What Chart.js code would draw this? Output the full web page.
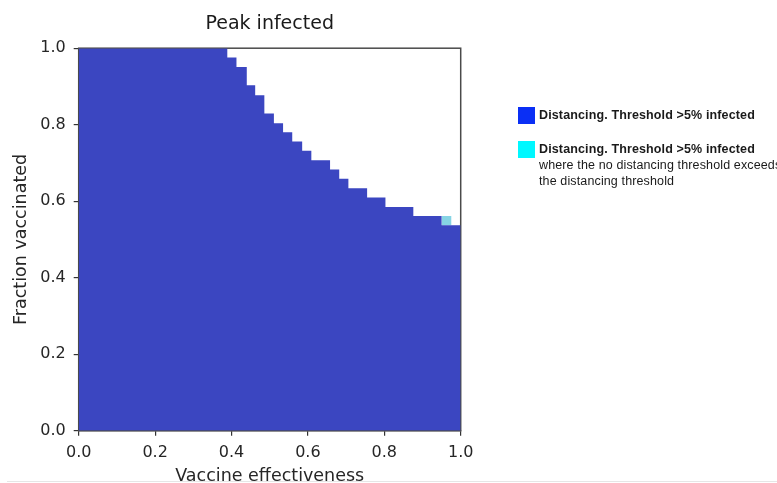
<!DOCTYPE html>
<html>
<head>
<meta charset="utf-8">
<script src="https://cdn.jsdelivr.net/npm/chart.js@4.4.1/dist/chart.umd.min.js"></script>
<style>
  html, body { margin: 0; padding: 0; background: #fff; overflow: hidden; }
  #wrap { position: relative; width: 777px; height: 483px; overflow: hidden; }
  #c { position: absolute; left: 0; top: 0; }
  .legend { position: absolute; font-family: "Liberation Sans", Arial, sans-serif; font-size: 12.5px; letter-spacing: 0.13px; color: #1a1a1a; white-space: nowrap; }
  .sw { position: absolute; width: 17px; height: 17px; }
  .line { position: absolute; left: 539px; line-height: 15px; }
  .b { font-weight: bold; }
  #sep { position: absolute; left: 7px; right: 0; top: 481px; height: 1px; background: #e6e6e6; }
</style>
</head>
<body>
<div id="wrap">
  <canvas id="c" width="777" height="483"></canvas>
  <div class="legend">
    <div class="sw" style="left:518px;top:107px;background:#0a2ff5;"></div>
    <div class="line b" style="top:108px;">Distancing. Threshold &gt;5% infected</div>
    <div class="sw" style="left:518px;top:141px;background:#00f8ff;"></div>
    <div class="line b" style="top:142px;">Distancing. Threshold &gt;5% infected</div>
    <div class="line" style="top:158px;">where the no distancing threshold exceeds</div>
    <div class="line" style="top:173.5px;">the distancing threshold</div>
  </div>
  <div id="sep"></div>
</div>
<script>
// Boundary of the "distancing threshold" region: for each vaccine-effectiveness
// step start, the highest fraction vaccinated that is still inside the region.
const effectivenessSteps = [0.000, 0.389, 0.413, 0.440, 0.462, 0.486, 0.511, 0.535, 0.559, 0.585, 0.609, 0.658, 0.682, 0.706, 0.755, 0.803, 0.876, 0.950, 1.000];
const fractionTop        = [1.000, 0.976, 0.951, 0.903, 0.877, 0.829, 0.804, 0.780, 0.756, 0.732, 0.707, 0.683, 0.659, 0.634, 0.610, 0.585, 0.561, 0.537, 0.537];

// Cell where the no-distancing threshold exceeds the distancing threshold
const exceedX      = [0.950, 0.976];
const exceedTop    = [0.561, 0.561];
const exceedBottom = 0.537;

const xTicks = [0.0, 0.2, 0.4, 0.6, 0.8, 1.0];
const yTicks = [0.0, 0.2, 0.4, 0.6, 0.8, 1.0];

const regionData = effectivenessSteps.map((x, i) => ({x: x, y: fractionTop[i]}));
const exceedData = exceedX.map((x, i) => ({x: x, y: exceedTop[i]}));

const framePlugin = {
  id: 'frame',
  beforeDatasetsDraw(chart) {
    const {ctx, chartArea: a} = chart;
    ctx.save();
    ctx.strokeStyle = '#4a4a4a';
    ctx.lineWidth = 1.5;
    ctx.strokeRect(a.left, a.top, a.right - a.left, a.bottom - a.top);
    ctx.restore();
  }
};

const tickFont = {family: '"DejaVu Sans", sans-serif', size: 16};

new Chart(document.getElementById('c'), {
  type: 'line',
  data: {
    datasets: [
      {
        data: regionData,
        stepped: true,
        fill: 'origin',
        backgroundColor: '#3b46c1',
        borderColor: '#3b46c1',
        borderWidth: 0,
        pointRadius: 0
      },
      {
        data: exceedData,
        stepped: true,
        fill: {value: exceedBottom},
        backgroundColor: '#86d4e4',
        borderColor: '#86d4e4',
        borderWidth: 0,
        pointRadius: 0
      }
    ]
  },
  options: {
    responsive: false,
    animation: false,
    layout: {padding: {left: 0, right: 316.3, top: 0, bottom: 0}},
    plugins: {
      legend: {display: false},
      tooltip: {enabled: false},
      title: {
        display: true,
        text: 'Peak infected',
        fullSize: false,
        color: '#1a1a1a',
        font: {family: '"DejaVu Sans", sans-serif', size: 19, weight: 'normal', lineHeight: 1.2},
        padding: {top: 12.3, bottom: 13.1}
      }
    },
    scales: {
      x: {
        type: 'linear',
        min: 0, max: 1,
        afterBuildTicks: s => { s.ticks = xTicks.map(v => ({value: v})); },
        afterFit: s => { s.height = 52.3; },
        ticks: {
          color: '#262626', font: tickFont, padding: 8,
          maxRotation: 0,
          callback: v => v.toFixed(1)
        },
        grid: {display: true, drawOnChartArea: false, drawTicks: true, tickLength: 5, color: '#333', lineWidth: 1.2},
        border: {display: true, color: '#333', width: 1.2},
        title: {
          display: true, text: 'Vaccine effectiveness', color: '#262626',
          font: {family: '"DejaVu Sans", sans-serif', size: 17.5, lineHeight: 0.75},
          padding: {top: 0, bottom: 0}
        }
      },
      y: {
        type: 'linear',
        min: 0, max: 1,
        afterBuildTicks: s => { s.ticks = yTicks.map(v => ({value: v})); },
        afterFit: s => { s.width = 78.7; },
        ticks: {
          color: '#262626', font: tickFont, padding: 8,
          callback: v => v.toFixed(1)
        },
        grid: {display: true, drawOnChartArea: false, drawTicks: true, tickLength: 5, color: '#333', lineWidth: 1.2},
        border: {display: true, color: '#333', width: 1.2},
        title: {
          display: true, text: 'Fraction vaccinated', color: '#262626',
          font: {family: '"DejaVu Sans", sans-serif', size: 17.5, lineHeight: 1.2},
          padding: {top: 10.5, bottom: 0}
        }
      }
    }
  },
  plugins: [framePlugin]
});
</script>
</body>
</html>
